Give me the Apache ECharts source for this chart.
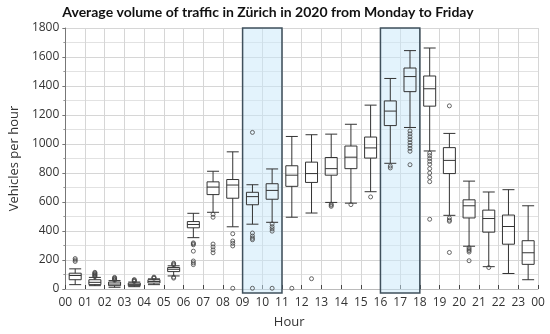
<!DOCTYPE html>
<html>
<head>
<meta charset="utf-8">
<script src="https://cdn.jsdelivr.net/npm/echarts@6/dist/echarts.min.js"></script>
<style>html,body{margin:0;padding:0;background:#fff}#c{width:550px;height:334px}</style>
</head>
<body>
<div id="c"></div>
<script>
// Categories (hour bands) and boundary tick labels
var hours = ['00','01','02','03','04','05','06','07','08','09','10','11','12','13','14','15','16','17','18','19','20','21','22','23'];
var tickLabels = ['00','01','02','03','04','05','06','07','08','09','10','11','12','13','14','15','16','17','18','19','20','21','22','23','00'];
// Box values: [lower whisker, Q1, median, Q3, upper whisker]
var boxValues = [
  [30, 64, 93, 109, 139],
  [23, 30, 46, 64, 80],
  [12, 23, 34, 48, 58],
  [16, 23, 30, 41, 48],
  [30, 41, 52, 64, 70],
  [90, 120, 136, 148, 160],
  [354, 422, 445, 465, 522],
  [529, 651, 703, 739, 812],
  [429, 626, 717, 755, 946],
  [447, 581, 637, 667, 719],
  [460, 619, 680, 726, 828],
  [495, 708, 785, 850, 1052],
  [524, 735, 796, 875, 1064],
  [597, 785, 830, 907, 1068],
  [592, 830, 909, 986, 1136],
  [671, 903, 973, 1048, 1268],
  [867, 1127, 1227, 1297, 1452],
  [1114, 1361, 1465, 1524, 1644],
  [952, 1261, 1381, 1469, 1662],
  [508, 796, 887, 975, 1073],
  [295, 490, 574, 615, 744],
  [154, 392, 486, 544, 669],
  [107, 309, 431, 510, 685],
  [64, 170, 250, 333, 574]
];
// Outliers: [hour index, value]
var outliers = [
  [0,190],[0,200],[0,210],
  [1,85],[1,90],[1,95],[1,100],[1,105],[1,110],[1,115],
  [2,60],[2,65],[2,70],[2,75],[2,80],
  [3,52],[3,56],[3,60],[3,65],
  [4,74],[4,78],[4,82],
  [5,75],[5,82],[5,165],[5,172],[5,178],
  [6,318],[6,312],[6,305],[6,261],[6,193],[6,180],[6,168],
  [7,515],[7,495],[7,310],[7,290],[7,270],[7,250],
  [8,381],[8,331],[8,315],[8,297],[8,5],
  [9,386],[9,365],[9,350],[9,340],[9,1080],[9,5],
  [10,449],[10,430],[10,415],[10,399],[10,5],
  [11,5],
  [12,71],
  [13,585],[13,578],[13,570],
  [14,582],
  [15,635],
  [16,848],[16,835],
  [17,1090],[17,1070],[17,1050],[17,1030],[17,1010],[17,990],[17,970],[17,950],[17,857],
  [18,937],[18,920],[18,900],[18,880],[18,860],[18,830],[18,800],[18,770],[18,740],[18,481],
  [19,490],[19,475],[19,467],[19,1263],[19,252],
  [20,285],[20,275],[20,265],[20,255],[20,195],
  [21,148]
];
// Highlighted hour ranges
var highlightRanges = [[9, 11], [16, 18]];
var yTicks = {min: 0, max: 1800, interval: 200};

var chart = echarts.init(document.getElementById('c'));
var txt = '#333';
chart.setOption({
  animation: false,
  title: {
    text: 'Average volume of traffic in Zürich in 2020 from Monday to Friday',
    left: 263, top: 0, textAlign: 'center',
    textStyle: {fontFamily: 'Lato', fontWeight: 'bold', fontSize: 14, color: '#111'}
  },
  grid: {left: 57, right: 12, top: 28, bottom: 41},
  xAxis: [
    {type: 'category', data: hours, show: false, boundaryGap: true},
    {type: 'value', min: 0, max: 24, interval: 1, position: 'bottom',
     name: 'Hour', nameLocation: 'middle', nameGap: 27,
     nameTextStyle: {fontFamily: 'Open Sans', fontSize: 13, color: txt, padding: [0, 25, 0, 0]},
     axisLine: {show: true, lineStyle: {color: '#bbb'}},
     axisTick: {show: true, inside: true, length: 4, lineStyle: {color: '#444'}},
     axisLabel: {fontFamily: 'Open Sans', fontSize: 12, color: txt, margin: 8,
       formatter: function (v) { return tickLabels[Math.round(v)]; }},
     splitLine: {show: true, lineStyle: {color: '#d6d6d6'}}
    }
  ],
  yAxis: {
    type: 'value', min: yTicks.min, max: yTicks.max, interval: yTicks.interval,
    name: 'Vehicles per hour', nameLocation: 'middle', nameGap: 44,
    nameTextStyle: {fontFamily: 'Open Sans', fontSize: 13, color: txt},
    axisLine: {show: true, lineStyle: {color: '#777'}},
    axisTick: {show: true, length: 3, lineStyle: {color: '#777'}},
    minorTick: {show: true, splitNumber: 2, length: 2, lineStyle: {color: '#999'}},
    axisLabel: {fontFamily: 'Open Sans', fontSize: 12, color: txt, margin: 6,
      formatter: function (v) { return String(v); }},
    splitLine: {show: true, lineStyle: {color: '#d6d6d6'}},
    minorSplitLine: {show: true, lineStyle: {color: '#e2e2e2'}}
  },
  series: [
    {
      type: 'custom', xAxisIndex: 1, yAxisIndex: 0, z: 1, silent: true,
      data: highlightRanges,
      renderItem: function (params, api) {
        var p1 = api.coord([api.value(0), yTicks.max]);
        var p2 = api.coord([api.value(1), yTicks.min]);
        return {
          type: 'rect',
          shape: {x: p1[0], y: p1[1], width: p2[0] - p1[0], height: p2[1] - p1[1] + 4},
          style: {fill: 'rgba(200,232,250,0.5)', stroke: '#3f505c', lineWidth: 1.5}
        };
      }
    },
    {
      type: 'boxplot', xAxisIndex: 0, z: 3,
      data: boxValues,
      boxWidth: [12, 12],
      itemStyle: {color: 'rgba(255,255,255,0)', borderColor: '#333', borderWidth: 1}
    },
    {
      type: 'scatter', xAxisIndex: 0, z: 4,
      data: outliers,
      symbol: 'circle', symbolSize: 4,
      itemStyle: {color: 'rgba(255,255,255,0)', borderColor: '#444', borderWidth: 1}
    }
  ]
});
</script>
</body>
</html>
